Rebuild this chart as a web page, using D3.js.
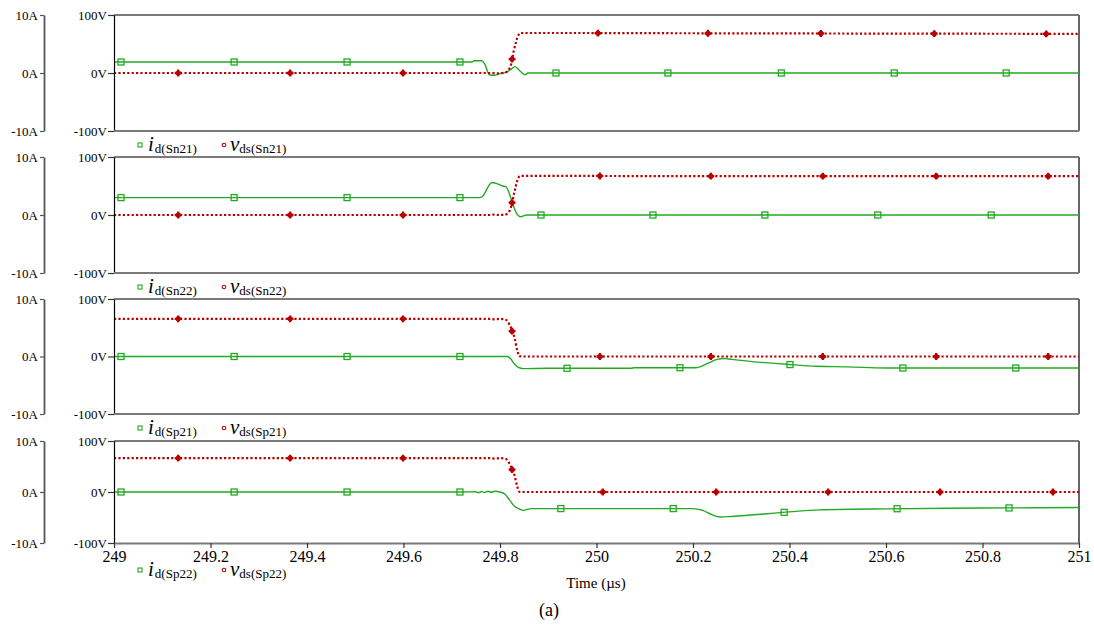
<!DOCTYPE html>
<html>
<head>
<meta charset="utf-8">
<script src="https://cdn.jsdelivr.net/npm/d3@7"></script>
<style>
body { margin: 0; background: #fff; }
text { font-family: "Liberation Serif", "Times New Roman", serif; fill: #000; }
</style>
</head>
<body>
<div id="chart"></div>
<script>
// time axis (µs)
var xTicks = [249, 249.2, 249.4, 249.6, 249.8, 250, 250.2, 250.4, 250.6, 250.8, 251];
var xTickLabels = ["249", "249.2", "249.4", "249.6", "249.8", "250", "250.2", "250.4", "250.6", "250.8", "251"];
var vTicks = [-100, 0, 100];
var aTicks = [-10, 0, 10];

// drain currents (A) and drain-source voltages (V) as [t, value]
var idSn21 = [[249,1.9],[249.742,1.9],[249.746,2.1],[249.762,2.1],[249.768,1.6],[249.778,-0.3],[249.788,-0.4],[249.80,-0.1],[249.815,0.2],[249.825,0.8],[249.831,1.1],[249.842,0.3],[249.852,-0.3],[249.858,0],[251,0]];
var vdsSn21 = [[249,0],[249.78,0],[249.795,-0.6],[249.81,0.5],[249.822,12],[249.829,40],[249.838,65],[249.842,69],[249.9,69],[250.2,68.5],[251,67.5]];

var idSn22 = [[249,3.0],[249.758,3.0],[249.765,3.3],[249.775,4.8],[249.783,5.6],[249.79,5.5],[249.80,5.2],[249.806,5.0],[249.812,4.9],[249.818,4.0],[249.826,2.0],[249.835,0.2],[249.843,-0.3],[249.85,-0.1],[249.856,0],[251,0]];
var vdsSn22 = [[249,0],[249.78,0],[249.785,0.8],[249.792,0],[249.81,0.5],[249.818,5],[249.823,14],[249.83,40],[249.838,64],[249.842,67.5],[250.2,67],[251,67]];

var idSp21 = [[249,0],[249.815,0],[249.822,-0.4],[249.83,-1.3],[249.838,-1.9],[249.848,-2.1],[249.9,-2.05],[250.072,-2.05],[250.078,-1.95],[250.205,-1.95],[250.23,-1.2],[250.25,-0.5],[250.266,-0.35],[250.28,-0.5],[250.40,-1.4],[250.457,-1.7],[250.52,-1.8],[250.60,-2.0],[251,-2.0]];
var vdsSp21 = [[249,65.5],[249.78,65.5],[249.79,64.5],[249.80,65.5],[249.812,64],[249.82,55],[249.83,33],[249.836,10],[249.84,0.5],[249.85,0],[251,0]];

var idSp22 = [[249,0],[249.72,0],[249.75,0.05],[249.755,-0.15],[249.762,0.1],[249.768,-0.1],[249.775,0.15],[249.782,-0.05],[249.79,0.15],[249.80,0],[249.81,-0.4],[249.82,-1.6],[249.83,-2.8],[249.84,-3.3],[249.848,-3.6],[249.856,-3.4],[249.865,-3.25],[250.2,-3.25],[250.22,-3.6],[250.24,-4.5],[250.256,-4.9],[250.28,-4.8],[250.4,-3.9],[250.46,-3.5],[250.6,-3.3],[250.8,-3.15],[251,-3.05]];
var vdsSp22 = [[249,66.5],[249.78,66.5],[249.79,65.5],[249.80,66.5],[249.812,65],[249.82,55],[249.83,33],[249.836,10],[249.84,0.5],[249.85,0],[251,0]];

// marker times
var idMarkSn21 = [249.0145,249.249,249.483,249.717,249.916,250.148,250.383,250.617,250.849];
var vdsMarkSn21 = [249.133,249.365,249.599,249.825,250.003,250.231,250.465,250.700,250.932];
var idMarkSn22 = [249.0145,249.249,249.483,249.717,249.885,250.117,250.349,250.583,250.818];
var vdsMarkSn22 = [249.133,249.365,249.599,249.825,250.007,250.237,250.469,250.704,250.936];
var idMarkSp21 = [249.0145,249.249,249.483,249.717,249.939,250.173,250.401,250.635,250.869];
var vdsMarkSp21 = [249.133,249.365,249.599,249.825,250.007,250.237,250.469,250.704,250.936];
var idMarkSp22 = [249.0145,249.249,249.483,249.717,249.926,250.159,250.389,250.623,250.855];
var vdsMarkSp22 = [249.133,249.365,249.599,249.825,250.013,250.248,250.480,250.712,250.946];

var names = ["Sn21", "Sn22", "Sp21", "Sp22"];

var green = "#22aa22";
var red = "#b80000";
var serif = "'Liberation Serif', 'Times New Roman', serif";

var svg = d3.select("#chart").append("svg")
  .attr("width", 1094)
  .attr("height", 626);

var x = d3.scaleLinear().domain([249, 251]).range([114, 1079]);

var panels = [
  {name: names[0], top: 15, bottom: 131, legY: 145, id: idSn21, vds: vdsSn21, idMk: idMarkSn21, vdsMk: vdsMarkSn21},
  {name: names[1], top: 157, bottom: 273, legY: 287, id: idSn22, vds: vdsSn22, idMk: idMarkSn22, vdsMk: vdsMarkSn22},
  {name: names[2], top: 299, bottom: 414, legY: 428, id: idSp21, vds: vdsSp21, idMk: idMarkSp21, vdsMk: vdsMarkSp21},
  {name: names[3], top: 441, bottom: 543, legY: 570, id: idSp22, vds: vdsSp22, idMk: idMarkSp22, vdsMk: vdsMarkSp22}
];

// value on the drawn trace at time t (markers sit on the curve)
function onCurve(series, t) {
  var i = d3.bisector(function(d) { return d[0]; }).right(series, t);
  if (i <= 0) return series[0][1];
  if (i >= series.length) return series[series.length - 1][1];
  var a = series[i - 1], b = series[i];
  return a[1] + (b[1] - a[1]) * (t - a[0]) / (b[0] - a[0]);
}

panels.forEach(function(p, k) {
  var yV = d3.scaleLinear().domain([-100, 100]).range([p.bottom, p.top]);
  var yA = d3.scaleLinear().domain([-10, 10]).range([p.bottom, p.top]);
  var g = svg.append("g").attr("class", "panel");

  // frame
  g.append("line").attr("x1", 114).attr("x2", 1079).attr("y1", p.top).attr("y2", p.top)
    .attr("stroke", "#7a7a7a").attr("stroke-width", 2);
  g.append("line").attr("x1", 1079).attr("x2", 1079).attr("y1", p.top).attr("y2", p.bottom)
    .attr("stroke", "#666").attr("stroke-width", 2);

  // current trace
  var lineA = d3.line().x(function(d) { return x(d[0]); }).y(function(d) { return yA(d[1]); })
    .curve(d3.curveMonotoneX);
  g.append("path").datum(p.id).attr("d", lineA)
    .attr("fill", "none").attr("stroke", green).attr("stroke-width", 1.4);

  // voltage trace
  var lineV = d3.line().x(function(d) { return x(d[0]); }).y(function(d) { return yV(d[1]); })
    .curve(d3.curveMonotoneX);
  g.append("path").datum(p.vds).attr("d", lineV)
    .attr("fill", "none").attr("stroke", red).attr("stroke-width", 2.2)
    .attr("stroke-dasharray", "2.2,2.2");

  // markers
  g.selectAll(".mkA").data(p.idMk).enter().append("rect")
    .attr("x", function(t) { return x(t) - 3; })
    .attr("y", function(t) { return yA(onCurve(p.id, t)) - 3; })
    .attr("width", 6).attr("height", 6)
    .attr("fill", "none").attr("stroke", green).attr("stroke-width", 1.3);
  var mkV = g.selectAll(".mkV").data(p.vdsMk).enter().append("g")
    .attr("transform", function(t) { return "translate(" + x(t) + "," + yV(onCurve(p.vds, t)) + ")"; });
  mkV.append("circle").attr("r", 2.6).attr("fill", red);
  mkV.append("path").attr("d", d3.symbol(d3.symbolCross, 26)).attr("fill", red);

  // V axis
  var axV = g.append("g").attr("transform", "translate(114,0)").attr("font-family", serif)
    .call(d3.axisLeft(yV).tickValues(vTicks).tickSize(6).tickSizeOuter(0).tickPadding(1)
      .tickFormat(function(d) { return d + "V"; }));
  axV.select(".domain").attr("stroke", "#000").attr("stroke-width", 1.2);
  axV.selectAll(".tick line").attr("stroke", "#333").attr("stroke-width", 1.2);
  axV.selectAll("text").style("font-family", serif).style("font-size", "13px");

  // A axis
  var axA = g.append("g").attr("transform", "translate(44,0)").attr("font-family", serif)
    .call(d3.axisLeft(yA).tickValues(aTicks).tickSize(4).tickSizeOuter(0).tickPadding(2)
      .tickFormat(function(d) { return d + "A"; }));
  axA.select(".domain").attr("stroke", "#555").attr("stroke-width", 1.8);
  axA.selectAll(".tick line").attr("stroke", "#555").attr("stroke-width", 1.2);
  axA.selectAll("text").style("font-family", serif).style("font-size", "13px");

  // bottom edge / time axis
  if (k === panels.length - 1) {
    var axT = g.append("g").attr("transform", "translate(0," + p.bottom + ")").attr("font-family", serif)
      .call(d3.axisBottom(x).tickValues(xTicks).tickSize(5).tickSizeOuter(0).tickPadding(3)
        .tickFormat(function(d, i) { return xTickLabels[i]; }));
    axT.select(".domain").attr("stroke", "#7a7a7a").attr("stroke-width", 2);
    axT.selectAll(".tick line").attr("stroke", "#333").attr("stroke-width", 1.2);
    axT.selectAll("text").style("font-family", serif).style("font-size", "16px");
  } else {
    g.append("line").attr("x1", 114).attr("x2", 1079).attr("y1", p.bottom).attr("y2", p.bottom)
      .attr("stroke", "#7a7a7a").attr("stroke-width", 2);
  }

  // legend
  g.append("rect").attr("x", 138).attr("y", p.legY - 2).attr("width", 4).attr("height", 4)
    .attr("fill", "none").attr("stroke", green).attr("stroke-width", 1.1);
  var tI = g.append("text").attr("x", 148).attr("y", p.legY + 5.5).style("font-size", "21px");
  tI.append("tspan").style("font-style", "italic").text("i");
  tI.append("tspan").attr("dx", 1).attr("dy", 2.5).style("font-size", "13px").text("d(" + p.name + ")");

  g.append("circle").attr("cx", 224).attr("cy", p.legY).attr("r", 1.8)
    .attr("fill", "none").attr("stroke", red).attr("stroke-width", 1.1);
  var tV = g.append("text").attr("x", 230).attr("y", p.legY + 5.5).style("font-size", "21px");
  tV.append("tspan").style("font-style", "italic").text("v");
  tV.append("tspan").attr("dy", 2.5).style("font-size", "13px").text("ds(" + p.name + ")");
});

svg.append("text").attr("x", 596).attr("y", 588).attr("text-anchor", "middle")
  .style("font-size", "15px").text("Time (\u00b5s)");
svg.append("text").attr("x", 549).attr("y", 616).attr("text-anchor", "middle")
  .style("font-size", "18px").text("(a)");
</script>
</body>
</html>
